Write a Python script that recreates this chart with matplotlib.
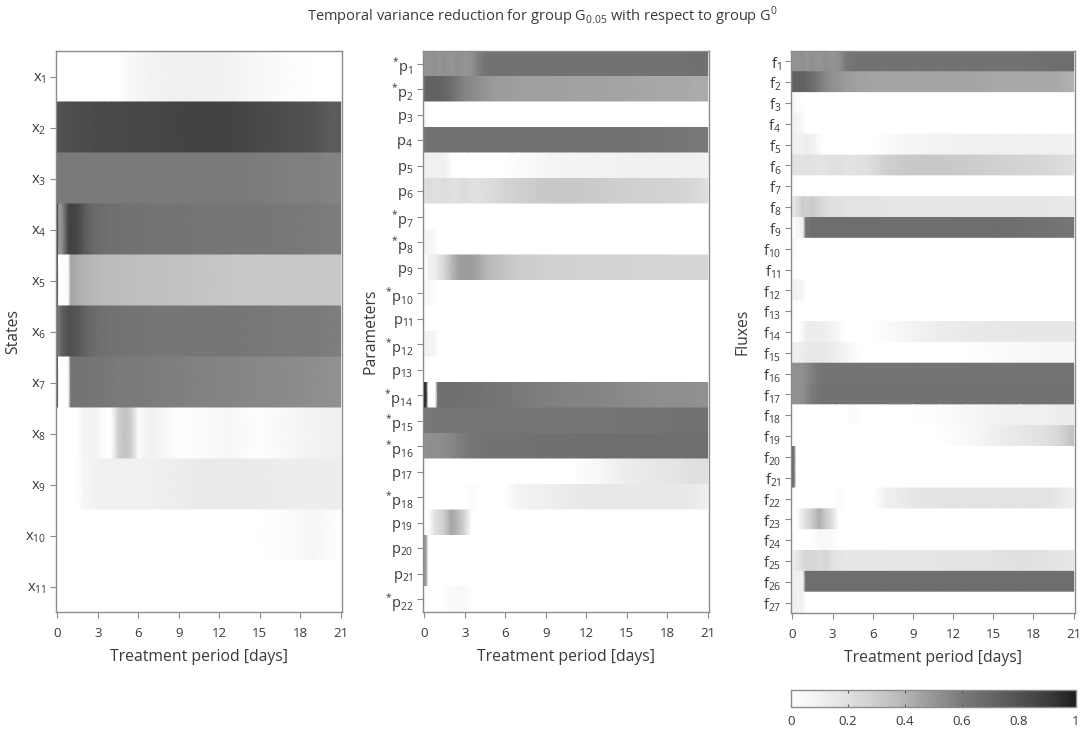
import numpy as np
import matplotlib
matplotlib.use("Agg")
import matplotlib.pyplot as plt
from matplotlib.colors import LinearSegmentedColormap

# ---------------- data ----------------
# sampling days (knots) shared by every row
T = [0, 0.1, 0.3, 0.8, 1, 1.5, 2, 2.5, 3, 3.5, 4, 4.5, 5, 5.5, 6, 7, 9, 11, 13, 15, 17, 19, 20, 21]

STATES = [
    [0, 0, 0, 0, 0, 0, 0, 0, 0, 0, 0, 0, 0.03, 0.05, 0.06, 0.08, 0.1, 0.1, 0.08, 0.05, 0.02, 0, 0, 0],
    [0.78, 0.8, 0.8, 0.82, 0.82, 0.82, 0.83, 0.83, 0.84, 0.84, 0.84, 0.84, 0.84, 0.85, 0.85, 0.85, 0.86, 0.87, 0.86, 0.84, 0.82, 0.8, 0.76, 0.74],
    [0.6, 0.6, 0.6, 0.6, 0.6, 0.6, 0.6, 0.6, 0.6, 0.6, 0.6, 0.6, 0.6, 0.6, 0.6, 0.6, 0.6, 0.6, 0.6, 0.59, 0.58, 0.58, 0.57, 0.57],
    [0.95, 0.5, 0.5, 0.85, 0.87, 0.85, 0.75, 0.7, 0.67, 0.66, 0.65, 0.65, 0.64, 0.64, 0.64, 0.63, 0.63, 0.62, 0.62, 0.62, 0.61, 0.6, 0.59, 0.59],
    [0.95, 0, 0, 0.03, 0.45, 0.42, 0.4, 0.39, 0.38, 0.37, 0.37, 0.36, 0.36, 0.36, 0.35, 0.35, 0.34, 0.33, 0.32, 0.32, 0.32, 0.32, 0.32, 0.32],
    [0.7, 0.6, 0.72, 0.8, 0.8, 0.78, 0.72, 0.68, 0.66, 0.65, 0.64, 0.64, 0.63, 0.63, 0.63, 0.62, 0.62, 0.62, 0.62, 0.61, 0.6, 0.6, 0.59, 0.58],
    [0.95, 0, 0, 0, 0.62, 0.63, 0.63, 0.62, 0.62, 0.61, 0.61, 0.6, 0.6, 0.6, 0.6, 0.59, 0.58, 0.57, 0.56, 0.55, 0.54, 0.53, 0.52, 0.52],
    [0, 0, 0, 0, 0, 0, 0.08, 0.08, 0.06, 0, 0, 0.28, 0.34, 0.28, 0.03, 0.1, 0, 0.03, 0.05, 0, 0.05, 0.08, 0.1, 0.1],
    [0, 0, 0, 0, 0, 0, 0.06, 0.08, 0.09, 0.1, 0.1, 0.1, 0.1, 0.1, 0.1, 0.1, 0.12, 0.14, 0.14, 0.13, 0.12, 0.12, 0.12, 0.12],
    [0, 0, 0, 0, 0, 0, 0, 0, 0, 0, 0, 0, 0, 0, 0, 0, 0, 0, 0, 0, 0.02, 0.06, 0.03, 0],
    [0, 0, 0, 0, 0, 0, 0, 0, 0, 0, 0, 0, 0, 0, 0, 0, 0, 0, 0, 0, 0, 0, 0, 0],
]

PARAM_STARRED = [1, 2, 7, 8, 10, 12, 14, 15, 16, 18, 22]
PARAMS = [
    [0.5, 0.52, 0.5, 0.53, 0.5, 0.52, 0.5, 0.53, 0.5, 0.52, 0.58, 0.63, 0.64, 0.64, 0.64, 0.64, 0.64, 0.64, 0.64, 0.64, 0.64, 0.64, 0.65, 0.65],
    [0.68, 0.7, 0.72, 0.72, 0.72, 0.7, 0.66, 0.6, 0.56, 0.54, 0.52, 0.5, 0.49, 0.48, 0.48, 0.47, 0.47, 0.46, 0.46, 0.45, 0.44, 0.44, 0.43, 0.43],
    [0.05, 0.04, 0, 0, 0, 0, 0, 0, 0, 0, 0, 0, 0, 0, 0, 0, 0, 0, 0, 0, 0, 0, 0, 0],
    [0.64, 0.64, 0.64, 0.64, 0.64, 0.64, 0.64, 0.64, 0.64, 0.64, 0.64, 0.64, 0.64, 0.64, 0.64, 0.64, 0.64, 0.64, 0.64, 0.64, 0.63, 0.62, 0.61, 0.6],
    [0.08, 0.1, 0.1, 0.1, 0.1, 0.1, 0.02, 0, 0, 0, 0, 0, 0, 0, 0, 0.02, 0.07, 0.08, 0.08, 0.09, 0.1, 0.1, 0.09, 0.08],
    [0.2, 0.2, 0.22, 0.2, 0.2, 0.22, 0.2, 0.2, 0.22, 0.2, 0.2, 0.22, 0.22, 0.24, 0.26, 0.28, 0.32, 0.32, 0.3, 0.28, 0.27, 0.26, 0.24, 0.2],
    [0, 0, 0, 0, 0, 0, 0, 0, 0, 0, 0, 0, 0, 0, 0, 0, 0, 0, 0, 0, 0, 0, 0, 0],
    [0.06, 0.06, 0.06, 0.05, 0, 0, 0, 0, 0, 0, 0, 0, 0, 0, 0, 0, 0, 0, 0, 0, 0, 0, 0, 0],
    [0, 0, 0.08, 0.12, 0.15, 0.25, 0.38, 0.46, 0.48, 0.48, 0.45, 0.4, 0.37, 0.35, 0.33, 0.3, 0.28, 0.27, 0.27, 0.26, 0.26, 0.25, 0.25, 0.25],
    [0.05, 0.05, 0.05, 0, 0, 0, 0, 0, 0, 0, 0, 0, 0, 0, 0, 0, 0, 0, 0, 0, 0, 0, 0, 0],
    [0, 0, 0, 0, 0, 0, 0, 0, 0, 0, 0, 0, 0, 0, 0, 0, 0, 0, 0, 0, 0, 0, 0, 0],
    [0.08, 0.08, 0.08, 0.06, 0, 0, 0, 0, 0, 0, 0, 0, 0, 0, 0, 0, 0, 0, 0, 0, 0, 0, 0, 0],
    [0, 0, 0, 0, 0, 0, 0, 0, 0, 0, 0, 0, 0, 0, 0, 0, 0, 0, 0, 0, 0, 0, 0, 0],
    [1.0, 1.0, 0, 0, 0.65, 0.66, 0.66, 0.65, 0.65, 0.64, 0.64, 0.63, 0.63, 0.62, 0.62, 0.6, 0.58, 0.57, 0.56, 0.54, 0.53, 0.53, 0.52, 0.52],
    [0.62, 0.62, 0.62, 0.62, 0.62, 0.62, 0.62, 0.62, 0.62, 0.62, 0.62, 0.62, 0.62, 0.62, 0.62, 0.62, 0.62, 0.62, 0.62, 0.63, 0.63, 0.64, 0.64, 0.64],
    [0.5, 0.52, 0.52, 0.53, 0.52, 0.54, 0.55, 0.58, 0.6, 0.62, 0.63, 0.63, 0.64, 0.64, 0.64, 0.64, 0.65, 0.65, 0.66, 0.66, 0.66, 0.66, 0.66, 0.66],
    [0.02, 0, 0, 0, 0, 0, 0, 0, 0, 0, 0, 0, 0, 0, 0, 0, 0, 0, 0.05, 0.12, 0.15, 0.18, 0.2, 0.2],
    [0, 0, 0, 0, 0, 0, 0, 0, 0, 0.03, 0, 0, 0, 0, 0, 0.08, 0.1, 0.14, 0.15, 0.15, 0.15, 0.15, 0.14, 0.1],
    [0, 0, 0, 0.2, 0.22, 0.3, 0.45, 0.38, 0.25, 0, 0, 0, 0, 0, 0, 0, 0, 0, 0, 0, 0, 0, 0, 0],
    [0.5, 0.5, 0, 0, 0, 0, 0, 0, 0, 0, 0, 0, 0, 0, 0, 0, 0, 0, 0, 0, 0, 0, 0, 0],
    [0.5, 0.5, 0, 0, 0, 0, 0, 0, 0, 0, 0, 0, 0, 0, 0, 0, 0, 0, 0, 0, 0, 0, 0, 0],
    [0, 0, 0, 0, 0, 0, 0.04, 0.05, 0.04, 0, 0, 0, 0, 0, 0, 0, 0, 0, 0, 0, 0, 0, 0, 0],
]

FLUXES = [
    [0.5, 0.52, 0.5, 0.53, 0.5, 0.52, 0.5, 0.53, 0.5, 0.52, 0.6, 0.63, 0.64, 0.64, 0.64, 0.64, 0.64, 0.64, 0.64, 0.64, 0.64, 0.65, 0.66, 0.66],
    [0.7, 0.72, 0.72, 0.72, 0.7, 0.66, 0.6, 0.55, 0.52, 0.5, 0.48, 0.47, 0.46, 0.46, 0.45, 0.45, 0.45, 0.45, 0.45, 0.44, 0.44, 0.44, 0.43, 0.4],
    [0.05, 0.05, 0.03, 0, 0, 0, 0, 0, 0, 0, 0, 0, 0, 0, 0, 0, 0, 0, 0, 0, 0, 0, 0, 0],
    [0.08, 0.08, 0.08, 0.05, 0, 0, 0, 0, 0, 0, 0, 0, 0, 0, 0, 0, 0, 0, 0, 0, 0, 0, 0, 0],
    [0.08, 0.1, 0.1, 0.1, 0.12, 0.1, 0.03, 0, 0, 0, 0, 0, 0, 0, 0, 0.03, 0.07, 0.08, 0.09, 0.1, 0.1, 0.1, 0.1, 0.08],
    [0.18, 0.18, 0.2, 0.18, 0.2, 0.18, 0.18, 0.18, 0.2, 0.2, 0.18, 0.18, 0.2, 0.2, 0.22, 0.28, 0.32, 0.32, 0.3, 0.28, 0.26, 0.24, 0.22, 0.2],
    [0, 0, 0, 0, 0, 0, 0, 0, 0, 0, 0, 0, 0, 0, 0, 0, 0, 0, 0, 0, 0, 0, 0, 0],
    [0.12, 0.15, 0.2, 0.3, 0.28, 0.3, 0.25, 0.22, 0.2, 0.2, 0.18, 0.18, 0.18, 0.18, 0.18, 0.17, 0.17, 0.17, 0.16, 0.16, 0.16, 0.16, 0.15, 0.15],
    [0, 0, 0.05, 0.1, 0.62, 0.66, 0.66, 0.66, 0.66, 0.66, 0.66, 0.66, 0.66, 0.66, 0.66, 0.66, 0.66, 0.66, 0.66, 0.66, 0.65, 0.64, 0.63, 0.62],
    [0.04, 0.04, 0.02, 0, 0, 0, 0, 0, 0, 0, 0, 0, 0, 0, 0, 0, 0, 0, 0, 0, 0, 0, 0, 0],
    [0, 0, 0, 0, 0, 0, 0, 0, 0, 0, 0, 0, 0, 0, 0, 0, 0, 0, 0, 0, 0, 0, 0, 0],
    [0.08, 0.08, 0.08, 0.06, 0, 0, 0, 0, 0, 0, 0, 0, 0, 0, 0, 0, 0, 0, 0, 0, 0, 0, 0, 0],
    [0, 0, 0, 0, 0, 0, 0, 0, 0, 0, 0, 0, 0, 0, 0, 0, 0, 0, 0, 0, 0, 0, 0, 0],
    [0, 0, 0, 0.05, 0.12, 0.12, 0.12, 0.1, 0.08, 0.04, 0, 0, 0, 0, 0, 0.03, 0.08, 0.12, 0.14, 0.15, 0.16, 0.16, 0.16, 0.16],
    [0.08, 0.1, 0.1, 0.12, 0.14, 0.15, 0.15, 0.14, 0.12, 0.1, 0.06, 0.03, 0, 0, 0, 0, 0, 0, 0, 0.02, 0.04, 0.05, 0.05, 0.05],
    [0.5, 0.52, 0.52, 0.52, 0.54, 0.58, 0.62, 0.63, 0.63, 0.63, 0.63, 0.63, 0.63, 0.63, 0.63, 0.63, 0.63, 0.63, 0.63, 0.63, 0.63, 0.63, 0.63, 0.63],
    [0.5, 0.52, 0.52, 0.52, 0.55, 0.6, 0.63, 0.64, 0.64, 0.64, 0.64, 0.64, 0.64, 0.64, 0.64, 0.64, 0.64, 0.64, 0.64, 0.64, 0.64, 0.64, 0.64, 0.64],
    [0, 0, 0, 0, 0, 0, 0, 0, 0, 0, 0, 0.03, 0, 0, 0, 0, 0, 0.02, 0.05, 0.08, 0.1, 0.1, 0.12, 0.12],
    [0, 0, 0, 0, 0, 0, 0, 0, 0, 0, 0, 0, 0, 0, 0, 0, 0, 0, 0.04, 0.1, 0.15, 0.2, 0.25, 0.35],
    [0.7, 0.7, 0, 0, 0, 0, 0, 0, 0, 0, 0, 0, 0, 0, 0, 0, 0, 0, 0, 0, 0, 0, 0, 0],
    [0.7, 0.7, 0, 0, 0, 0, 0, 0, 0, 0, 0, 0, 0, 0, 0, 0, 0, 0, 0, 0, 0, 0, 0, 0],
    [0, 0, 0, 0, 0, 0, 0, 0, 0, 0.03, 0, 0, 0, 0, 0, 0.1, 0.16, 0.18, 0.18, 0.18, 0.18, 0.18, 0.15, 0.1],
    [0, 0, 0, 0.15, 0.2, 0.3, 0.42, 0.3, 0.2, 0, 0, 0, 0, 0, 0, 0, 0, 0, 0, 0, 0, 0, 0, 0],
    [0, 0, 0, 0, 0, 0, 0.04, 0.05, 0.03, 0, 0, 0, 0, 0, 0, 0, 0, 0, 0, 0, 0, 0, 0, 0],
    [0.08, 0.12, 0.15, 0.22, 0.25, 0.25, 0.22, 0.25, 0.18, 0.17, 0.16, 0.16, 0.16, 0.16, 0.16, 0.16, 0.17, 0.17, 0.18, 0.18, 0.2, 0.18, 0.17, 0.16],
    [0.1, 0.1, 0.1, 0.1, 0.66, 0.66, 0.66, 0.66, 0.66, 0.66, 0.66, 0.66, 0.66, 0.66, 0.66, 0.66, 0.66, 0.66, 0.66, 0.66, 0.66, 0.66, 0.66, 0.66],
    [0.1, 0.1, 0.1, 0.08, 0, 0, 0, 0, 0, 0, 0, 0, 0, 0, 0, 0, 0, 0, 0, 0, 0, 0, 0, 0],
]

X_TICKS = [0, 3, 6, 9, 12, 15, 18, 21]
CBAR_TICKS = [0, 0.2, 0.4, 0.6, 0.8, 1]
CBAR_LABELS = ["0", "0.2", "0.4", "0.6", "0.8", "1"]

# ---------------- style ----------------
plt.rcParams['font.family'] = ['Open Sans', 'DejaVu Sans']
plt.rcParams['mathtext.fontset'] = 'custom'
plt.rcParams['mathtext.rm'] = 'Open Sans'
TXT = '#3a3a3a'
SPINE = '#8c8c8c'

anchors = [(0.0, 255), (0.1, 240), (0.2, 224), (0.3, 204), (0.4, 180), (0.5, 150),
           (0.6, 122), (0.7, 102), (0.8, 82), (0.9, 60), (1.0, 30)]
cmap = LinearSegmentedColormap.from_list(
    'grayvar', [(p, (g / 255, g / 255, g / 255)) for p, g in anchors])

W, H = 1084, 730
fig = plt.figure(figsize=(W / 100, H / 100), dpi=100)


def fr(left, top, right, bottom):
    return [left / W, 1 - bottom / H, (right - left) / W, (bottom - top) / H]


def draw_panel(ax, rows, labels, ylabel):
    t = np.asarray(T, dtype=float)
    n = len(rows)
    for i, vals in enumerate(rows):
        v = np.asarray(vals, dtype=float)
        X = np.vstack([t, t])
        Y = np.vstack([np.full_like(t, i - 0.5), np.full_like(t, i + 0.5)])
        C = np.vstack([v, v])
        ax.pcolormesh(X, Y, C, shading='gouraud', cmap=cmap, vmin=0, vmax=1,
                      rasterized=True)
    ax.set_xlim(-0.1, 21.1)
    ax.set_ylim(n - 0.5, -0.5)
    ax.set_yticks(range(n))
    ax.set_yticklabels(labels)
    ax.set_xticks(X_TICKS)
    ax.set_xticklabels([str(x) for x in X_TICKS])
    ax.tick_params(axis='both', direction='out', length=4, width=0.8,
                   colors=SPINE, labelcolor=TXT)
    ax.tick_params(axis='x', pad=7, labelsize=9.5)
    ax.tick_params(axis='y', pad=3, labelsize=10.5)
    for s in ax.spines.values():
        s.set_color(SPINE)
        s.set_linewidth(1.0)
    ax.set_xlabel('Treatment period [days]', fontsize=11.3, color=TXT, labelpad=6)
    ax.set_ylabel(ylabel, fontsize=11.3, color=TXT)


ax1 = fig.add_axes(fr(56, 51, 342, 612))
ax2 = fig.add_axes(fr(423, 51, 709, 612))
ax3 = fig.add_axes(fr(791, 51, 1075, 613))

state_labels = [r"x$_\mathregular{%d}$" % i for i in range(1, 12)]
param_labels = [(r"$^\mathregular{*}$" if i in PARAM_STARRED else "") + r"p$_\mathregular{%d}$" % i
                for i in range(1, 23)]
flux_labels = [r"f$_\mathregular{%d}$" % i for i in range(1, 28)]

draw_panel(ax1, STATES, state_labels, 'States')
draw_panel(ax2, PARAMS, param_labels, 'Parameters')
draw_panel(ax3, FLUXES, flux_labels, 'Fluxes')
ax1.yaxis.set_label_coords((21 - 56) / 286, 0.5)
ax2.yaxis.set_label_coords((379 - 423) / 286, 0.5)
ax3.yaxis.set_label_coords((750 - 791) / 284, 0.5)

fig.text(0.5, 1 - 16 / H,
         r"Temporal variance reduction for group G$_\mathregular{0.05}$ with respect to group G$^\mathregular{0}$",
         ha='center', va='center', fontsize=10.5, color=TXT)

# colorbar
cax = fig.add_axes(fr(791, 690, 1076, 707))
sm = matplotlib.cm.ScalarMappable(norm=matplotlib.colors.Normalize(0, 1), cmap=cmap)
cb = fig.colorbar(sm, cax=cax, orientation='horizontal')
cb.set_ticks(CBAR_TICKS)
cb.set_ticklabels(CBAR_LABELS)
cb.outline.set_edgecolor(SPINE)
cb.outline.set_linewidth(1.0)
cax.tick_params(axis='x', direction='in', length=2.5, width=0.8, colors='#555555',
                labelcolor=TXT, labelsize=9.5, top=True, bottom=True, pad=6)

fig.savefig('out.png', dpi=100)
